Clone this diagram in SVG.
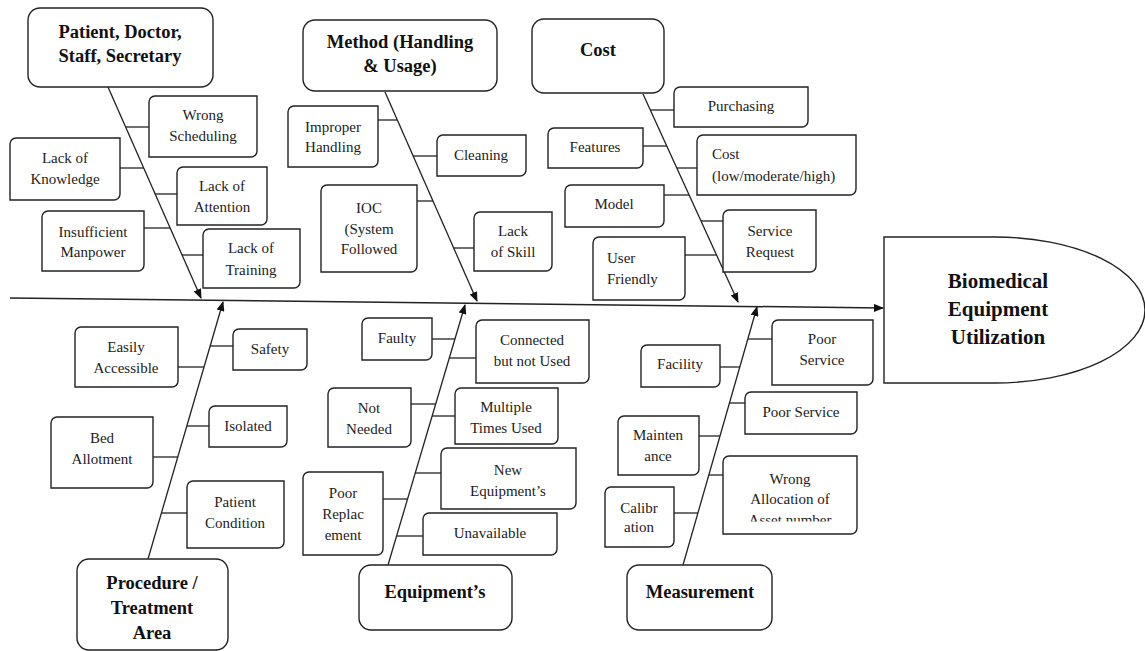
<svg xmlns="http://www.w3.org/2000/svg" width="1145" height="651" viewBox="0 0 1145 651">
<style>
.b{fill:#fff;stroke:#222;stroke-width:1.4}
.t{font-size:15px;fill:#222;text-anchor:middle}
.l{text-anchor:start}
.h{font-size:18.5px;font-weight:bold;fill:#111;text-anchor:middle}
.c line{stroke:#222;stroke-width:1.3}
.c .s{stroke-width:1.5}
</style>
<defs>
<marker id="ah" markerWidth="10" markerHeight="8" refX="9" refY="4" orient="auto" markerUnits="userSpaceOnUse">
<path d="M0,0 L10,4 L0,8 Z" fill="#111"/>
</marker>
<clipPath id="clipW"><rect x="723" y="456" width="134" height="65.5"/></clipPath>
</defs>
<rect width="1145" height="651" fill="#fff"/>

<g class="c" id="connectors">
<line class="s" x1="10" y1="298" x2="883" y2="308" marker-end="url(#ah)"/>
<line x1="108" y1="87" x2="201" y2="298" marker-end="url(#ah)"/>
<line x1="126" y1="127" x2="149" y2="127"/>
<line x1="120" y1="168" x2="144" y2="168"/>
<line x1="155" y1="194" x2="177" y2="194"/>
<line x1="144" y1="228" x2="170" y2="228"/>
<line x1="182" y1="255" x2="203" y2="255"/>
<line x1="148" y1="559" x2="223" y2="302" marker-end="url(#ah)"/>
<line x1="210" y1="346" x2="233" y2="346"/>
<line x1="178" y1="367" x2="204" y2="367"/>
<line x1="187" y1="426" x2="209" y2="426"/>
<line x1="153" y1="457" x2="178" y2="457"/>
<line x1="161" y1="513" x2="187" y2="513"/>
<line x1="385" y1="92" x2="477" y2="301" marker-end="url(#ah)"/>
<line x1="378" y1="120" x2="397" y2="120"/>
<line x1="413" y1="156" x2="437" y2="156"/>
<line x1="417" y1="201" x2="433" y2="201"/>
<line x1="454" y1="248" x2="474" y2="248"/>
<line x1="643" y1="94" x2="738" y2="302" marker-end="url(#ah)"/>
<line x1="650" y1="110" x2="674" y2="110"/>
<line x1="643" y1="146" x2="667" y2="146"/>
<line x1="677" y1="168" x2="697" y2="168"/>
<line x1="664" y1="195" x2="689" y2="195"/>
<line x1="701" y1="221" x2="723" y2="221"/>
<line x1="685" y1="255" x2="716" y2="255"/>
<line x1="388" y1="565" x2="465" y2="305" marker-end="url(#ah)"/>
<line x1="432" y1="339" x2="455" y2="339"/>
<line x1="449" y1="358" x2="476" y2="358"/>
<line x1="411" y1="404" x2="436" y2="404"/>
<line x1="432" y1="416" x2="455" y2="416"/>
<line x1="415" y1="473" x2="441" y2="473"/>
<line x1="383" y1="499" x2="407" y2="499"/>
<line x1="397" y1="536" x2="423" y2="536"/>
<line x1="683" y1="565" x2="757" y2="307" marker-end="url(#ah)"/>
<line x1="748" y1="339" x2="772" y2="339"/>
<line x1="720" y1="367" x2="740" y2="367"/>
<line x1="729" y1="403" x2="745" y2="403"/>
<line x1="699" y1="436" x2="720" y2="436"/>
<line x1="709" y1="475" x2="723" y2="475"/>
<line x1="674" y1="513" x2="698" y2="513"/>
</g>

<g id="nodes" font-family="Liberation Serif, DejaVu Serif, Noto Serif, serif">
<g id="head">
<path class="b" d="M884,237 H995 A150,73 0 0 1 995,383 H884 Z"/>
<text class="h" style="font-size:21px" x="998" y="288">Biomedical</text>
<text class="h" style="font-size:21px" x="998" y="316">Equipment</text>
<text class="h" style="font-size:21px" x="998" y="344">Utilization</text>
</g>

<g id="cat-patient">
<rect class="b" x="28" y="8" width="185" height="79" rx="12"/>
<text class="h" x="120" y="38">Patient, Doctor,</text>
<text class="h" x="120" y="62">Staff, Secretary</text>
</g>
<g id="wrong-scheduling">
<path class="b" d="M155,96 H257 V151 A6,6 0 0 1 251,157 H149 V102 A6,6 0 0 1 155,96 Z"/>
<text class="t" x="203" y="120">Wrong</text>
<text class="t" x="203" y="141">Scheduling</text>
</g>
<g id="lack-knowledge">
<path class="b" d="M16,138 H120 V194 A6,6 0 0 1 114,200 H10 V144 A6,6 0 0 1 16,138 Z"/>
<text class="t" x="65" y="163">Lack of</text>
<text class="t" x="65" y="184">Knowledge</text>
</g>
<g id="lack-attention">
<path class="b" d="M183,167 H267 V219 A6,6 0 0 1 261,225 H177 V173 A6,6 0 0 1 183,167 Z"/>
<text class="t" x="222" y="191">Lack of</text>
<text class="t" x="222" y="212">Attention</text>
</g>
<g id="insufficient-manpower">
<path class="b" d="M48,211 H144 V265 A6,6 0 0 1 138,271 H42 V217 A6,6 0 0 1 48,211 Z"/>
<text class="t" x="93" y="237">Insufficient</text>
<text class="t" x="93" y="257">Manpower</text>
</g>
<g id="lack-training">
<path class="b" d="M209,229 H300 V282 A6,6 0 0 1 294,288 H203 V235 A6,6 0 0 1 209,229 Z"/>
<text class="t" x="251" y="253">Lack of</text>
<text class="t" x="251" y="275">Training</text>
</g>

<g id="cat-procedure">
<rect class="b" x="77" y="559" width="151" height="91" rx="12"/>
<text class="h" x="152" y="589">Procedure /</text>
<text class="h" x="152" y="614">Treatment</text>
<text class="h" x="152" y="639">Area</text>
</g>
<g id="easily-accessible">
<path class="b" d="M81,327 H178 V381 A6,6 0 0 1 172,387 H75 V333 A6,6 0 0 1 81,327 Z"/>
<text class="t" x="126" y="352">Easily</text>
<text class="t" x="126" y="373">Accessible</text>
</g>
<g id="safety">
<path class="b" d="M239,329 H307 V364 A6,6 0 0 1 301,370 H233 V335 A6,6 0 0 1 239,329 Z"/>
<text class="t" x="270" y="354">Safety</text>
</g>
<g id="isolated">
<path class="b" d="M215,406 H287 V441 A6,6 0 0 1 281,447 H209 V412 A6,6 0 0 1 215,406 Z"/>
<text class="t" x="248" y="431">Isolated</text>
</g>
<g id="bed-allotment">
<path class="b" d="M57,417 H153 V482 A6,6 0 0 1 147,488 H51 V423 A6,6 0 0 1 57,417 Z"/>
<text class="t" x="102" y="443">Bed</text>
<text class="t" x="102" y="464">Allotment</text>
</g>
<g id="patient-condition">
<path class="b" d="M193,481 H284 V542 A6,6 0 0 1 278,548 H187 V487 A6,6 0 0 1 193,481 Z"/>
<text class="t" x="235" y="507">Patient</text>
<text class="t" x="235" y="528">Condition</text>
</g>

<g id="cat-method">
<rect class="b" x="303" y="20" width="194" height="71" rx="12"/>
<text class="h" x="400" y="48">Method (Handling</text>
<text class="h" x="400" y="72">&amp; Usage)</text>
</g>
<g id="improper-handling">
<path class="b" d="M294,106 H378 V161 A6,6 0 0 1 372,167 H288 V112 A6,6 0 0 1 294,106 Z"/>
<text class="t" x="333" y="132">Improper</text>
<text class="t" x="333" y="152">Handling</text>
</g>
<g id="cleaning">
<path class="b" d="M443,135 H526 V170 A6,6 0 0 1 520,176 H437 V141 A6,6 0 0 1 443,135 Z"/>
<text class="t" x="481" y="160">Cleaning</text>
</g>
<g id="ioc">
<path class="b" d="M327,185 H417 V266 A6,6 0 0 1 411,272 H321 V191 A6,6 0 0 1 327,185 Z"/>
<text class="t" x="369" y="213">IOC</text>
<text class="t" x="369" y="234">(System</text>
<text class="t" x="369" y="254">Followed</text>
</g>
<g id="lack-skill">
<path class="b" d="M480,212 H552 V265 A6,6 0 0 1 546,271 H474 V218 A6,6 0 0 1 480,212 Z"/>
<text class="t" x="513" y="236">Lack</text>
<text class="t" x="513" y="257">of Skill</text>
</g>

<g id="cat-cost">
<rect class="b" x="532" y="19" width="132" height="74" rx="12"/>
<text class="h" x="598" y="56">Cost</text>
</g>
<g id="purchasing">
<path class="b" d="M680,87 H808 V121 A6,6 0 0 1 802,127 H674 V93 A6,6 0 0 1 680,87 Z"/>
<text class="t" x="741" y="111">Purchasing</text>
</g>
<g id="features">
<path class="b" d="M554,128 H643 V162 A6,6 0 0 1 637,168 H548 V134 A6,6 0 0 1 554,128 Z"/>
<text class="t" x="595" y="152">Features</text>
</g>
<g id="cost-level">
<path class="b" d="M703,135 H856 V189 A6,6 0 0 1 850,195 H697 V141 A6,6 0 0 1 703,135 Z"/>
<text class="t l" x="712" y="159">Cost</text>
<text class="t l" x="712" y="181">(low/moderate/high)</text>
</g>
<g id="model">
<path class="b" d="M571,185 H664 V221 A6,6 0 0 1 658,227 H565 V191 A6,6 0 0 1 571,185 Z"/>
<text class="t" x="614" y="209">Model</text>
</g>
<g id="service-request">
<path class="b" d="M729,210 H816 V266 A6,6 0 0 1 810,272 H723 V216 A6,6 0 0 1 729,210 Z"/>
<text class="t" x="770" y="236">Service</text>
<text class="t" x="770" y="257">Request</text>
</g>
<g id="user-friendly">
<path class="b" d="M599,237 H685 V294 A6,6 0 0 1 679,300 H593 V243 A6,6 0 0 1 599,237 Z"/>
<text class="t l" x="607" y="263">User</text>
<text class="t l" x="607" y="284">Friendly</text>
</g>

<g id="cat-equipment">
<rect class="b" x="359" y="565" width="153" height="65" rx="12"/>
<text class="h" x="435" y="598">Equipment’s</text>
</g>
<g id="faulty">
<path class="b" d="M368,318 H432 V354 A6,6 0 0 1 426,360 H362 V324 A6,6 0 0 1 368,318 Z"/>
<text class="t" x="397" y="343">Faulty</text>
</g>
<g id="connected-not-used">
<path class="b" d="M482,320 H589 V377 A6,6 0 0 1 583,383 H476 V326 A6,6 0 0 1 482,320 Z"/>
<text class="t" x="532" y="345">Connected</text>
<text class="t" x="532" y="366">but not Used</text>
</g>
<g id="not-needed">
<path class="b" d="M334,388 H411 V441 A6,6 0 0 1 405,447 H328 V394 A6,6 0 0 1 334,388 Z"/>
<text class="t" x="369" y="413">Not</text>
<text class="t" x="369" y="434">Needed</text>
</g>
<g id="multiple-times">
<path class="b" d="M461,388 H558 V438 A6,6 0 0 1 552,444 H455 V394 A6,6 0 0 1 461,388 Z"/>
<text class="t" x="506" y="412">Multiple</text>
<text class="t" x="506" y="433">Times Used</text>
</g>
<g id="new-equipment">
<path class="b" d="M447,448 H576 V503 A6,6 0 0 1 570,509 H441 V454 A6,6 0 0 1 447,448 Z"/>
<text class="t" x="508" y="475">New</text>
<text class="t" x="508" y="496">Equipment’s</text>
</g>
<g id="poor-replacement">
<path class="b" d="M309,472 H383 V549 A6,6 0 0 1 377,555 H303 V478 A6,6 0 0 1 309,472 Z"/>
<text class="t" x="343" y="498">Poor</text>
<text class="t" x="343" y="519">Replac</text>
<text class="t" x="343" y="540">ement</text>
</g>
<g id="unavailable">
<path class="b" d="M429,513 H557 V549 A6,6 0 0 1 551,555 H423 V519 A6,6 0 0 1 429,513 Z"/>
<text class="t" x="490" y="538">Unavailable</text>
</g>

<g id="cat-measurement">
<rect class="b" x="627" y="565" width="145" height="65" rx="12"/>
<text class="h" x="700" y="598">Measurement</text>
</g>
<g id="poor-service-1">
<path class="b" d="M778,320 H873 V379 A6,6 0 0 1 867,385 H772 V326 A6,6 0 0 1 778,320 Z"/>
<text class="t" x="822" y="344">Poor</text>
<text class="t" x="822" y="365">Service</text>
</g>
<g id="facility">
<path class="b" d="M647,345 H720 V381 A6,6 0 0 1 714,387 H641 V351 A6,6 0 0 1 647,345 Z"/>
<text class="t" x="680" y="369">Facility</text>
</g>
<g id="poor-service-2">
<path class="b" d="M751,392 H857 V428 A6,6 0 0 1 851,434 H745 V398 A6,6 0 0 1 751,392 Z"/>
<text class="t" x="801" y="417">Poor Service</text>
</g>
<g id="maintenance">
<path class="b" d="M624,416 H699 V469 A6,6 0 0 1 693,475 H618 V422 A6,6 0 0 1 624,416 Z"/>
<text class="t" x="658" y="440">Mainten</text>
<text class="t" x="658" y="461">ance</text>
</g>
<g id="wrong-allocation">
<path class="b" d="M729,456 H857 V528 A6,6 0 0 1 851,534 H723 V462 A6,6 0 0 1 729,456 Z"/>
<g clip-path="url(#clipW)">
<text class="t" x="790" y="484">Wrong</text>
<text class="t" x="790" y="504">Allocation of</text>
<text class="t" x="790" y="525">Asset number</text>
</g>
</g>
<g id="calibration">
<path class="b" d="M611,487 H674 V541 A6,6 0 0 1 668,547 H605 V493 A6,6 0 0 1 611,487 Z"/>
<text class="t" x="639" y="513">Calibr</text>
<text class="t" x="639" y="532">ation</text>
</g>
</g>
</svg>
